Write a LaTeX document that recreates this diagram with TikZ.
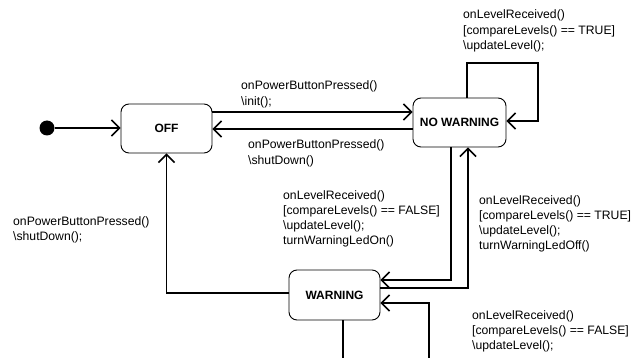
\documentclass[tikz,border=0pt]{standalone}
\usepackage{fontspec}
\setmainfont{Liberation Sans}
\usetikzlibrary{arrows.meta}

\tikzset{
  state/.style={draw, line width=0.9pt, rounded corners=8pt, minimum width=91pt,
    minimum height=49pt, inner sep=0pt, font=\fontsize{12}{14}\selectfont\bfseries},
  conn/.style={line width=1.5pt, -{Straight Barb[length=8pt,width=16pt]}},
  % labels are placed by the baseline of their last line
  lbl/.style={anchor=base west, align=left, inner sep=0pt,
    font=\fontsize{12.2}{15.3}\selectfont},
}

\begin{document}
\begin{tikzpicture}[x=1pt, y=-1pt]
\useasboundingbox (0,0) rectangle (639,358);
\clip (0,0) rectangle (639,358);

% states
\node[circle, fill, inner sep=0pt, minimum size=15pt] (init) at (47,128) {};
\node[state] (off)  at (166.5,128.5) {OFF};
\node[state, minimum width=93pt] (nw) at (459.5,122.5) {NO WARNING};
\node[state, minimum height=50pt] (warn) at (334.5,295) {WARNING};

% bend points
\coordinate (ya)  at (0,112);
\coordinate (yb)  at (0,129);
\coordinate (nwl) at (467,63);
\coordinate (nwr) at (538,121);
\coordinate (pa)  at (451,280);
\coordinate (pb)  at (468,288);
\coordinate (pc)  at (166,293);
\coordinate (wd)  at (343,372);
\coordinate (we)  at (429,303);

% transitions
\draw[conn] (init) -- (off.west |- init);
\draw[conn] (off.east |- ya) -- (nw.west |- ya);
\draw[conn] (nw.west |- yb) -- (off.east |- yb);
\draw[conn] (nw.north -| nwl) -- (nwl) -| (nwr) -- (nw.east |- nwr);
\draw[conn] (nw.south -| pa) |- (warn.east |- pa);
\draw[conn] (warn.east |- pb) -| (nw.south -| pb);
\draw[conn] (warn.west |- pc) -| (off.south);
\draw[conn] (warn.south -| wd) -- (wd) -| (we) -- (warn.east |- we);

% transition labels
\node[lbl] (t1) at (463,49.6) {onLevelReceived()\\{}[compareLevels() == TRUE]\\\textbackslash updateLevel();};
\node[lbl] (t2) at (241,105.3) {onPowerButtonPressed()\\\textbackslash init();};
\node[lbl] (t3) at (248,164.3) {onPowerButtonPressed()\\\textbackslash shutDown()};
\node[lbl] (t4) at (13,240.3) {onPowerButtonPressed()\\\textbackslash shutDown();};
\node[lbl] (t5) at (283,244.9) {onLevelReceived()\\{}[compareLevels() == FALSE]\\\textbackslash updateLevel();\\turnWarningLedOn()};
\node[lbl] (t6) at (479,249.9) {onLevelReceived()\\{}[compareLevels() == TRUE]\\\textbackslash updateLevel();\\turnWarningLedOff()};
\node[lbl] (t7) at (472,349.6) {onLevelReceived()\\{}[compareLevels() == FALSE]\\\textbackslash updateLevel();};
\end{tikzpicture}
\end{document}
